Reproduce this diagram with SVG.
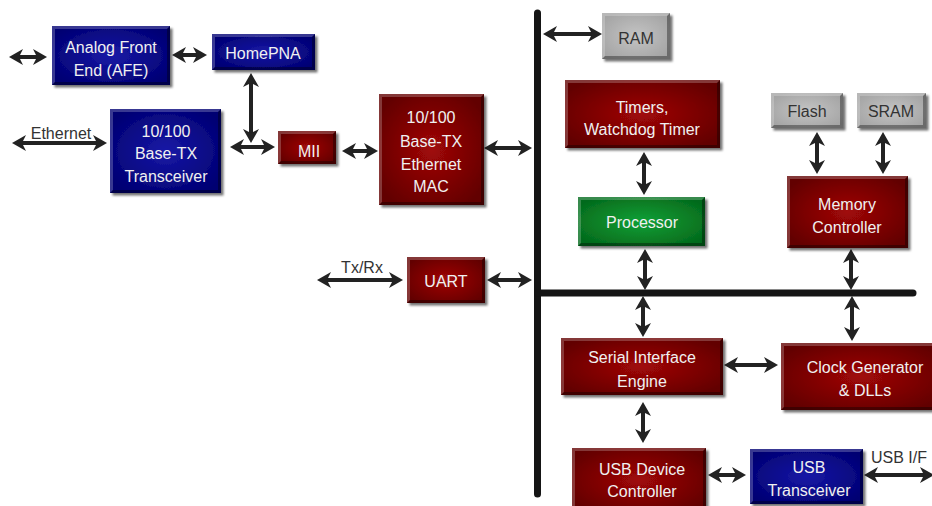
<svg xmlns="http://www.w3.org/2000/svg" width="932" height="506" viewBox="0 0 932 506">
<style>
.t{font-family:"Liberation Sans",Arial,sans-serif;font-size:16px;fill:#f0f0f0;text-anchor:middle}
.tg{fill:#333}
.lbl{font-family:"Liberation Sans",Arial,sans-serif;font-size:16px;fill:#333;text-anchor:middle}
.red{fill:url(#gRed)}
.blue{fill:url(#gBlue)}
.green{fill:url(#gGreen)}
.gray{fill:url(#gGray)}
.box{filter:url(#sh)}
.hi{fill:#fff;fill-opacity:0.22}
.lo{fill:#000;fill-opacity:0.35}
.ar{stroke:#222;stroke-width:4;fill:none;marker-start:url(#ah);marker-end:url(#ah)}
.bus{stroke:#151515;stroke-width:7;stroke-linecap:round;fill:none}
</style>
<defs>
<radialGradient id="gRed" cx="50%" cy="50%" r="60%"><stop offset="0" stop-color="#a00808"/><stop offset="1" stop-color="#620000"/></radialGradient>
<radialGradient id="gBlue" cx="50%" cy="50%" r="60%"><stop offset="0" stop-color="#1818a6"/><stop offset="1" stop-color="#000072"/></radialGradient>
<radialGradient id="gGreen" cx="50%" cy="50%" r="60%"><stop offset="0" stop-color="#12a036"/><stop offset="1" stop-color="#046a1c"/></radialGradient>
<radialGradient id="gGray" cx="50%" cy="50%" r="60%"><stop offset="0" stop-color="#c4c4c4"/><stop offset="1" stop-color="#a4a4a4"/></radialGradient>
<filter id="sh" x="-10%" y="-10%" width="130%" height="130%"><feDropShadow dx="2.5" dy="2.5" stdDeviation="1.2" flood-color="#000" flood-opacity="0.55"/></filter>
<marker id="ah" viewBox="0 0 14 16" markerWidth="14" markerHeight="16" refX="6" refY="8" orient="auto-start-reverse" markerUnits="userSpaceOnUse"><path d="M0,0 L14,8 L0,16 L4,8 z" fill="#222"/></marker>
</defs>

<g id="connectors">
<line class="bus" x1="537.5" y1="13" x2="537.5" y2="494"/>
<line class="bus" x1="537.5" y1="293" x2="913" y2="293"/>
<line class="ar" x1="17" y1="57" x2="39" y2="57"/>
<line class="ar" x1="180" y1="55" x2="199" y2="55"/>
<line class="ar" x1="251" y1="81" x2="251" y2="135"/>
<line class="ar" x1="238" y1="147" x2="267" y2="147"/>
<line class="ar" x1="20" y1="143" x2="99" y2="143"/>
<line class="ar" x1="350" y1="151" x2="370" y2="151"/>
<line class="ar" x1="492" y1="148" x2="524" y2="148"/>
<line class="ar" x1="551" y1="34" x2="594" y2="34"/>
<line class="ar" x1="644" y1="160" x2="644" y2="187"/>
<line class="ar" x1="645" y1="257" x2="645" y2="282"/>
<line class="ar" x1="817" y1="140" x2="817" y2="166"/>
<line class="ar" x1="883" y1="140" x2="883" y2="166"/>
<line class="ar" x1="851" y1="257" x2="851" y2="282"/>
<line class="ar" x1="643" y1="304" x2="643" y2="329"/>
<line class="ar" x1="852" y1="304" x2="852" y2="333"/>
<line class="ar" x1="643" y1="410" x2="643" y2="435"/>
<line class="ar" x1="732" y1="365" x2="770" y2="365"/>
<line class="ar" x1="716" y1="475" x2="738" y2="475"/>
<line class="ar" x1="872" y1="475" x2="926" y2="475"/>
<line class="ar" x1="325" y1="280" x2="395" y2="280"/>
<line class="ar" x1="495" y1="280" x2="524" y2="280"/>
<text class="lbl" x="61" y="139">Ethernet</text>
<text class="lbl" x="362" y="273">Tx/Rx</text>
<text class="lbl" x="899" y="463">USB I/F</text>
</g>

<g id="afe"><rect class="box blue" x="52" y="26" width="118" height="59"/>
<path class="hi" d="M52,26 h118 l-3,3 H55 V82 l-3,3 z"/><path class="lo" d="M170,26 v59 H52 l3,-3 H167 V29 z"/>
<text class="t" x="111" y="53">Analog Front</text><text class="t" x="111" y="76">End (AFE)</text></g>

<g id="homepna"><rect class="box blue" x="212" y="34" width="103" height="36"/>
<path class="hi" d="M212,34 h103 l-3,3 H215 V67 l-3,3 z"/><path class="lo" d="M315,34 v36 H212 l3,-3 H312 V37 z"/>
<text class="t" x="263" y="59">HomePNA</text></g>

<g id="transceiver"><rect class="box blue" x="110" y="109" width="111" height="84"/>
<path class="hi" d="M110,109 h111 l-3,3 H113 V190 l-3,3 z"/><path class="lo" d="M221,109 v84 H110 l3,-3 H218 V112 z"/>
<text class="t" x="166" y="137">10/100</text><text class="t" x="166" y="159">Base-TX</text><text class="t" x="166" y="182">Transceiver</text></g>

<g id="mii"><rect class="box red" x="278" y="131" width="58" height="33"/>
<path class="hi" d="M278,131 h58 l-3,3 H281 V161 l-3,3 z"/><path class="lo" d="M336,131 v33 H278 l3,-3 H333 V134 z"/>
<text class="t" x="309" y="157">MII</text></g>

<g id="mac"><rect class="box red" x="379" y="94" width="105" height="111"/>
<path class="hi" d="M379,94 h105 l-3,3 H382 V202 l-3,3 z"/><path class="lo" d="M484,94 v111 H379 l3,-3 H481 V97 z"/>
<text class="t" x="431" y="123">10/100</text><text class="t" x="431" y="147">Base-TX</text><text class="t" x="431" y="170">Ethernet</text><text class="t" x="431" y="192">MAC</text></g>

<g id="ram"><rect class="box gray" x="602" y="13" width="68" height="46"/>
<path class="hi" d="M602,13 h68 l-3,3 H605 V56 l-3,3 z"/><path class="lo" d="M670,13 v46 H602 l3,-3 H667 V16 z"/>
<text class="t tg" x="636" y="44">RAM</text></g>

<g id="timers"><rect class="box red" x="565" y="80" width="155" height="68"/>
<path class="hi" d="M565,80 h155 l-3,3 H568 V145 l-3,3 z"/><path class="lo" d="M720,80 v68 H565 l3,-3 H717 V83 z"/>
<text class="t" x="642" y="113">Timers,</text><text class="t" x="642" y="135">Watchdog Timer</text></g>

<g id="processor"><rect class="box green" x="578" y="197" width="127" height="49"/>
<path class="hi" d="M578,197 h127 l-3,3 H581 V243 l-3,3 z"/><path class="lo" d="M705,197 v49 H578 l3,-3 H702 V200 z"/>
<text class="t" x="642" y="228">Processor</text></g>

<g id="flash"><rect class="box gray" x="771" y="93" width="72" height="35"/>
<path class="hi" d="M771,93 h72 l-3,3 H774 V125 l-3,3 z"/><path class="lo" d="M843,93 v35 H771 l3,-3 H840 V96 z"/>
<text class="t tg" x="807" y="117">Flash</text></g>

<g id="sram"><rect class="box gray" x="857" y="93" width="69" height="35"/>
<path class="hi" d="M857,93 h69 l-3,3 H860 V125 l-3,3 z"/><path class="lo" d="M926,93 v35 H857 l3,-3 H923 V96 z"/>
<text class="t tg" x="891" y="117">SRAM</text></g>

<g id="memctrl"><rect class="box red" x="787" y="176" width="121" height="72"/>
<path class="hi" d="M787,176 h121 l-3,3 H790 V245 l-3,3 z"/><path class="lo" d="M908,176 v72 H787 l3,-3 H905 V179 z"/>
<text class="t" x="847" y="210">Memory</text><text class="t" x="847" y="233">Controller</text></g>

<g id="uart"><rect class="box red" x="407" y="257" width="78" height="46"/>
<path class="hi" d="M407,257 h78 l-3,3 H410 V300 l-3,3 z"/><path class="lo" d="M485,257 v46 H407 l3,-3 H482 V260 z"/>
<text class="t" x="446" y="287">UART</text></g>

<g id="sie"><rect class="box red" x="561" y="338" width="162" height="57"/>
<path class="hi" d="M561,338 h162 l-3,3 H564 V392 l-3,3 z"/><path class="lo" d="M723,338 v57 H561 l3,-3 H720 V341 z"/>
<text class="t" x="642" y="363">Serial Interface</text><text class="t" x="642" y="387">Engine</text></g>

<g id="clock"><rect class="box red" x="781" y="343" width="160" height="67"/>
<path class="hi" d="M781,343 h160 l-3,3 H784 V407 l-3,3 z"/><path class="lo" d="M941,343 v67 H781 l3,-3 H938 V346 z"/>
<text class="t" x="865" y="373">Clock Generator</text><text class="t" x="865" y="396">&amp; DLLs</text></g>

<g id="usbdev"><rect class="box red" x="572" y="448" width="134" height="64"/>
<path class="hi" d="M572,448 h134 l-3,3 H575 V509 l-3,3 z"/><path class="lo" d="M706,448 v64 H572 l3,-3 H703 V451 z"/>
<text class="t" x="642" y="475">USB Device</text><text class="t" x="642" y="497">Controller</text></g>

<g id="usbtrans"><rect class="box blue" x="750" y="449" width="113" height="55"/>
<path class="hi" d="M750,449 h113 l-3,3 H753 V501 l-3,3 z"/><path class="lo" d="M863,449 v55 H750 l3,-3 H860 V452 z"/>
<text class="t" x="809" y="473">USB</text><text class="t" x="809" y="496">Transceiver</text></g>
</svg>
